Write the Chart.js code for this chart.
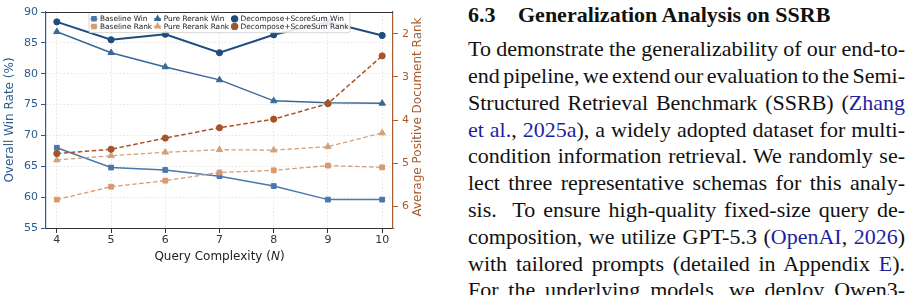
<!DOCTYPE html>
<html>
<head>
<meta charset="utf-8">
<script src="https://cdn.jsdelivr.net/npm/chart.js@4.4.1/dist/chart.umd.min.js"></script>
<style>
  html, body { margin: 0; padding: 0; background: #fff; }
  body { width: 914px; height: 295px; overflow: hidden; position: relative; }
  #chartBox { position: absolute; left: 0; top: 0; width: 430px; height: 270px; }
  #text { position: absolute; left: 468px; top: 0; width: 437px; height: 295px;
          font-family: "Liberation Serif", "Times New Roman", serif; font-size: 22px; color: #111; }
  .ln { position: absolute; left: 0; white-space: nowrap; line-height: 26.8px; }
  .h { font-weight: bold; }
  .c { color: #1f1fa3; }
</style>
</head>
<body>
<div id="chartBox"><canvas id="chart"></canvas></div>

<div id="text">
  <div class="ln h" style="left:0">6.3</div>
  <div class="ln h" style="left:50px">Generalization Analysis on SSRB</div>
  <div class="ln j">To demonstrate the generalizability of our end-to-</div>
  <div class="ln j">end pipeline, we extend our evaluation to the Semi-</div>
  <div class="ln j">Structured Retrieval Benchmark (SSRB) (<span class="c">Zhang</span></div>
  <div class="ln j"><span class="c">et al.</span>, <span class="c">2025a</span>), a widely adopted dataset for multi-</div>
  <div class="ln j">condition information retrieval. We randomly se-</div>
  <div class="ln j">lect three representative schemas for this analy-</div>
  <div class="ln j">sis.&nbsp; To ensure high-quality fixed-size query de-</div>
  <div class="ln j">composition, we utilize GPT-5.3 (<span class="c">OpenAI</span>, <span class="c">2026</span>)</div>
  <div class="ln j">with tailored prompts (detailed in Appendix <span class="c">E</span>).</div>
  <div class="ln j">For the underlying models, we deploy Qwen3-</div>
</div>

<script>
/* ── data ─────────────────────────────────────────────────────────── */
const complexity   = [4, 5, 6, 7, 8, 9, 10];

const baselineWin  = [68.0, 64.8, 64.4, 63.4, 61.8, 59.6, 59.6];
const rerankWin    = [86.8, 83.4, 81.1, 79.0, 75.6, 75.3, 75.2];
const decompWin    = [88.4, 85.5, 86.4, 83.4, 86.3, 88.4, 86.2];

const baselineRank = [5.85, 5.55, 5.41, 5.22, 5.17, 5.06, 5.10];
const rerankRank   = [4.93, 4.83, 4.75, 4.69, 4.70, 4.62, 4.30];
const decompRank   = [4.78, 4.68, 4.42, 4.18, 3.98, 3.62, 2.51];

const winTicks  = [55, 60, 65, 70, 75, 80, 85, 90];
const rankTicks = [2, 3, 4, 5, 6];

/* ── colours ──────────────────────────────────────────────────────── */
const BLUE_AX  = "#2d5b8d";
const RANK_AX  = "#a85c2e";
const FONT     = "'DejaVu Sans', sans-serif";

const pts = (ys) => complexity.map((x, i) => ({ x, y: ys[i] }));

function series(label, ys, axis, color, style, width, dashed, order, radius) {
  return {
    label,
    data: pts(ys),
    yAxisID: axis,
    borderColor: color,
    backgroundColor: color,
    pointBackgroundColor: color,
    pointBorderColor: color,
    pointStyle: style,
    pointRadius: radius,
    pointBorderWidth: 1,
    borderWidth: width,
    borderDash: dashed ? [4.5, 2.5] : [],
    tension: 0,
    order,
  };
}

/* ── plugins: legend inside the plot, right/bottom titles, top spine ─ */
const insideLegend = {
  id: "insideLegend",
  afterDraw(chart) {
    const { ctx, chartArea } = chart;
    const sets = chart.data.datasets;
    const cols = 3, rows = 2;
    const handle = 7, gap = 2.5, colGap = 2, padX = 1.5, padY = 2.5, rowH = 7.6;
    ctx.save();
    ctx.font = "7.4px " + FONT;
    const colW = [];
    for (let c = 0; c < cols; c++) {
      let m = 0;
      for (let r = 0; r < rows; r++) m = Math.max(m, ctx.measureText(sets[r * cols + c].label).width);
      colW.push(handle + gap + m);
    }
    const boxW = padX * 2 + colW.reduce((a, b) => a + b, 0) + colGap * (cols - 1);
    const boxH = padY * 2 + rowH * rows;
    const bx = (chartArea.left + chartArea.right) / 2 - boxW / 2;
    const by = chartArea.top + 0.5;

    ctx.fillStyle = "rgba(255,255,255,0.88)";
    ctx.strokeStyle = "#cccccc";
    ctx.lineWidth = 0.8;
    ctx.beginPath();
    ctx.roundRect(bx, by, boxW, boxH, 2);
    ctx.fill();
    ctx.stroke();

    ctx.textBaseline = "middle";
    ctx.textAlign = "left";
    let cx = bx + padX;
    for (let c = 0; c < cols; c++) {
      for (let r = 0; r < rows; r++) {
        const d = sets[r * cols + c];
        const y = by + padY + rowH * r + rowH / 2;
        ctx.strokeStyle = d.borderColor;
        ctx.fillStyle = d.borderColor;
        ctx.lineWidth = 1.3;
        ctx.beginPath();
        ctx.moveTo(cx, y);
        ctx.lineTo(cx + handle, y);
        ctx.stroke();
        Chart.helpers.drawPoint(ctx, { pointStyle: d.pointStyle, rotation: 0, radius: 3, borderWidth: 0.8 },
          cx + handle / 2, y);
        ctx.fillStyle = "#1a1a1a";
        ctx.fillText(d.label, cx + handle + gap, y + 0.3);
      }
      cx += colW[c] + colGap;
    }
    ctx.restore();
  },
};

const extraTitles = {
  id: "extraTitles",
  afterDraw(chart) {
    const { ctx, chartArea } = chart;
    ctx.save();
    // top spine
    ctx.strokeStyle = "#333";
    ctx.lineWidth = 1;
    ctx.beginPath();
    ctx.moveTo(chartArea.left, chartArea.top + 0.5);
    ctx.lineTo(chartArea.right, chartArea.top + 0.5);
    ctx.stroke();

    // right axis title, reading bottom-to-top
    ctx.font = "12px " + FONT;
    ctx.fillStyle = RANK_AX;
    ctx.textAlign = "center";
    ctx.textBaseline = "middle";
    ctx.translate(418, (chartArea.top + chartArea.bottom) / 2 - 3);
    ctx.rotate(-Math.PI / 2);
    ctx.fillText("Average Positive Document Rank", 0, 0);
    ctx.restore();

    // x axis title with italic N
    ctx.save();
    const parts = [["Query Complexity (", "12px " + FONT], ["N", "italic 12px " + FONT], [")", "12px " + FONT]];
    let total = 0;
    parts.forEach(([t, f]) => { ctx.font = f; total += ctx.measureText(t).width; });
    let x = (chartArea.left + chartArea.right) / 2 - total / 2;
    ctx.fillStyle = "#222";
    ctx.textBaseline = "middle";
    ctx.textAlign = "left";
    parts.forEach(([t, f]) => {
      ctx.font = f;
      ctx.fillText(t, x, 257);
      x += ctx.measureText(t).width;
    });
    ctx.restore();
  },
};

/* ── chart ────────────────────────────────────────────────────────── */
const gridColor = "rgba(0,0,0,0.13)";

new Chart(document.getElementById("chart"), {
  type: "line",
  data: {
    datasets: [
      series("Baseline Win",            baselineWin,  "y",  "#4a78ad", "rect",     1.5, false, 6, 3.4),
      series("Pure Rerank Win",         rerankWin,    "y",  "#3a6898", "triangle", 1.5, false, 5, 3.7),
      series("Decompose+ScoreSum Win",  decompWin,    "y",  "#1f4c7e", "circle",   2,   false, 4, 3.1),
      series("Baseline Rank",           baselineRank, "y2", "#d9996f", "rect",     1.3, true,  3, 3.4),
      series("Pure Rerank Rank",        rerankRank,   "y2", "#d3a27a", "triangle", 1.3, true,  2, 3.7),
      series("Decompose+ScoreSum Rank", decompRank,   "y2", "#a65425", "circle",   1.5, true,  1, 3.1),
    ],
  },
  options: {
    responsive: true,
    maintainAspectRatio: false,
    animation: false,
    devicePixelRatio: 1,
    layout: { padding: { top: 12, left: 0, right: 0, bottom: 0 } },
    plugins: { legend: { display: false }, tooltip: { enabled: false } },
    scales: {
      x: {
        type: "linear",
        min: 3.8,
        max: 10.2,
        afterBuildTicks: (s) => { s.ticks = complexity.map((v) => ({ value: v })); },
        afterFit: (s) => { s.height = 42; },
        grid: { color: gridColor, lineWidth: 0.8, tickLength: 5, tickColor: "#333", tickWidth: 1 },
        border: { color: "#333", width: 1, dash: [1.5, 2] },
        ticks: { color: "#333", font: { family: FONT, size: 11 }, padding: 1, autoSkip: false, maxRotation: 0 },
      },
      y: {
        position: "left",
        min: 55,
        max: 90,
        afterBuildTicks: (s) => { s.ticks = winTicks.map((v) => ({ value: v })); },
        afterFit: (s) => { s.width = 46; },
        grid: { color: gridColor, lineWidth: 0.8, tickLength: 5, tickColor: BLUE_AX, tickWidth: 1 },
        border: { color: BLUE_AX, width: 1.2, dash: [1.5, 2] },
        ticks: { color: BLUE_AX, font: { family: FONT, size: 11 }, padding: 3 },
        title: {
          display: true,
          text: "Overall Win Rate (%)",
          color: BLUE_AX,
          font: { family: FONT, size: 12 },
          padding: { top: 2.5, bottom: 0 },
        },
      },
      y2: {
        position: "right",
        reverse: true,
        min: 1.49,
        max: 6.51,
        afterBuildTicks: (s) => { s.ticks = rankTicks.map((v) => ({ value: v })); },
        afterFit: (s) => { s.width = 37; },
        grid: { drawOnChartArea: false, tickLength: 5, tickColor: RANK_AX, tickWidth: 1 },
        border: { color: RANK_AX, width: 1.2 },
        ticks: { color: RANK_AX, font: { family: FONT, size: 11 }, padding: 4 },
      },
    },
  },
  plugins: [insideLegend, extraTitles],
});

/* ── text column: fixed line breaks, justified to the column width ── */
const COL_W = 437;
const lines = document.querySelectorAll("#text .ln");
lines[0].style.top = lines[1].style.top = (22.5 - 20.8) + "px";
document.querySelectorAll("#text .ln.j").forEach((el, i) => {
  el.style.top = (57 + 26.8 * i - 20.8) + "px";
  const w = el.getBoundingClientRect().width;
  const gaps = (el.textContent.match(/[ \u00a0]/g) || []).length;
  el.style.wordSpacing = ((COL_W - w) / gaps) + "px";
});
</script>
</body>
</html>
